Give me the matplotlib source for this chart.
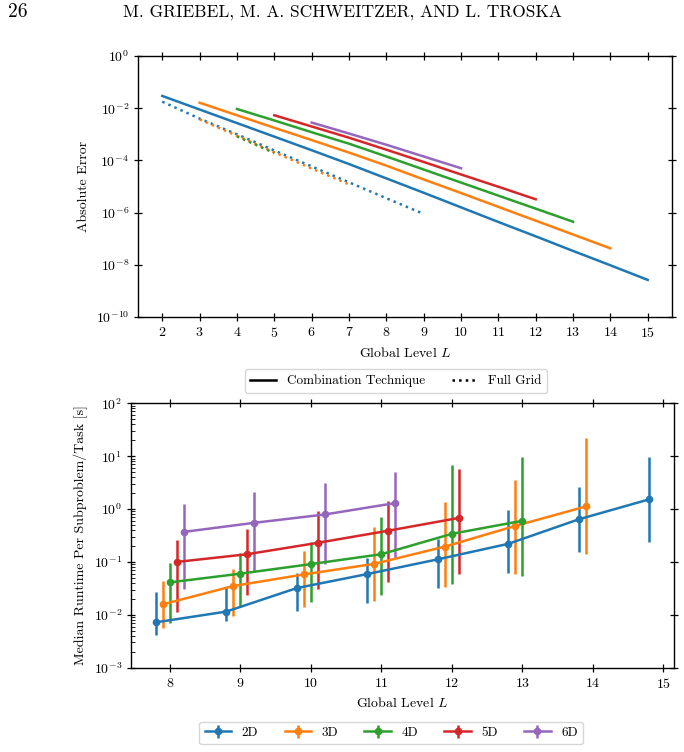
import numpy as np
import matplotlib
matplotlib.use('Agg')
import matplotlib.pyplot as plt
from matplotlib.lines import Line2D

plt.rcParams['font.family'] = 'cmr10'
plt.rcParams['mathtext.fontset'] = 'cm'
plt.rcParams['axes.formatter.use_mathtext'] = True
plt.rcParams['font.size'] = 10

colors = ['#1f77b4', '#ff7f0e', '#2ca02c', '#d62728', '#9467bd']

# --- top chart: absolute error (log10 values) ---
ct_levels = [list(range(2, 16)), list(range(3, 15)), list(range(4, 14)),
             list(range(5, 13)), list(range(6, 11))]
ct_log_err = [
    [-1.53, -2.05, -2.57, -3.09, -3.61, -4.14, -4.69, -5.24, -5.80, -6.36, -6.91, -7.47, -8.02, -8.58],
    [-1.79, -2.27, -2.75, -3.22, -3.70, -4.20, -4.73, -5.25, -5.78, -6.31, -6.84, -7.37],
    [-2.03, -2.47, -2.92, -3.36, -3.85, -4.35, -4.85, -5.35, -5.85, -6.35],
    [-2.27, -2.70, -3.13, -3.59, -4.06, -4.54, -5.01, -5.49],
    [-2.55, -2.97, -3.40, -3.85, -4.30],
]
fg_levels = [list(range(2, 10)), list(range(3, 8)), [4, 5]]
fg_log_err = [
    [-1.75, -2.40, -3.00, -3.62, -4.23, -4.84, -5.45, -6.05],
    [-2.43, -3.06, -3.69, -4.31, -4.92],
    [-3.08, -3.72],
]

# --- bottom chart: median runtime with asymmetric error bars ---
dims = ['2D', '3D', '4D', '5D', '6D']
rt_levels = [list(range(8, 16)), list(range(8, 15)), list(range(8, 14)),
             list(range(8, 13)), list(range(8, 12))]
rt_offsets = [-0.2, -0.1, 0.0, 0.1, 0.2]
rt_median = [
    [0.0072, 0.0115, 0.032, 0.059, 0.112, 0.22, 0.64, 1.53],
    [0.0158, 0.035, 0.058, 0.092, 0.195, 0.48, 1.12],
    [0.041, 0.060, 0.091, 0.14, 0.34, 0.60],
    [0.10, 0.14, 0.23, 0.39, 0.68],
    [0.37, 0.55, 0.79, 1.30],
]
rt_high = [
    [0.0275, 0.034, 0.063, 0.117, 0.27, 0.95, 2.57, 9.8],
    [0.044, 0.074, 0.162, 0.457, 1.35, 3.55, 22.4],
    [0.095, 0.145, 0.234, 0.70, 6.8, 9.5],
    [0.263, 0.417, 0.93, 1.41, 5.75],
    [1.23, 2.14, 3.09, 5.0],
]
rt_low = [
    [0.0042, 0.0076, 0.0117, 0.0166, 0.0324, 0.063, 0.155, 0.24],
    [0.0056, 0.0095, 0.0138, 0.0186, 0.034, 0.059, 0.141],
    [0.0069, 0.0141, 0.0178, 0.024, 0.038, 0.055],
    [0.0115, 0.024, 0.031, 0.041, 0.059],
    [0.031, 0.066, 0.091, 0.117],
]

fig = plt.figure(figsize=(6.84, 7.52), dpi=100)

fig.text(0.012, 0.984, '26', fontsize=14, ha='left', va='center')
fig.text(0.500, 0.984, 'M. GRIEBEL, M. A. SCHWEITZER, AND L. TROSKA',
         fontsize=12.5, ha='center', va='center')


def style_axes(ax):
    ax.tick_params(which='major', direction='inout', length=6, width=0.9,
                   top=True, right=True, labelsize=10)
    for s in ax.spines.values():
        s.set_linewidth(1.0)


ax1 = fig.add_axes([0.2018, 0.5785, 0.7807, 0.3470])
for i in range(5):
    ax1.plot(ct_levels[i], 10.0 ** np.array(ct_log_err[i]), color=colors[i], lw=1.8)
for i in range(3):
    ax1.plot(fg_levels[i], 10.0 ** np.array(fg_log_err[i]), color=colors[i], lw=1.8, ls=':')
ax1.set_yscale('log')
ax1.set_ylim(1e-10, 1e0)
ax1.set_yticks([1e-10, 1e-8, 1e-6, 1e-4, 1e-2, 1e0])
ax1.minorticks_off()
ax1.set_xticks(range(2, 16))
ax1.set_xlabel('Global Level $L$')
ax1.set_ylabel('Absolute Error')
style_axes(ax1)

handles1 = [Line2D([], [], color='black', lw=1.8),
            Line2D([], [], color='black', lw=1.8, ls=':')]
fig.legend(handles1, ['Combination Technique', 'Full Grid'], ncol=2,
           loc='center', bbox_to_anchor=(0.579, 0.4934), fontsize=9.5)

ax2 = fig.add_axes([0.1915, 0.1121, 0.7939, 0.3516])
for i in range(5):
    x = np.array(rt_levels[i]) + rt_offsets[i]
    med = np.array(rt_median[i])
    yerr = [med - np.array(rt_low[i]), np.array(rt_high[i]) - med]
    ax2.errorbar(x, med, yerr=yerr, color=colors[i], lw=1.8, elinewidth=1.8,
                 marker='o', markersize=4.5, label=dims[i])
ax2.set_yscale('log')
ax2.set_ylim(1e-3, 1e2)
ax2.set_xticks(range(8, 16))
ax2.set_xlabel('Global Level $L$')
ax2.set_ylabel('Median Runtime Per Subproblem/Task [s]')
style_axes(ax2)
ax2.tick_params(which='minor', direction='in', length=3, left=True, right=False)

fig.legend(loc='center', bbox_to_anchor=(0.572, 0.0253), ncol=5, fontsize=9.5)

fig.savefig('out.png', dpi=100)
